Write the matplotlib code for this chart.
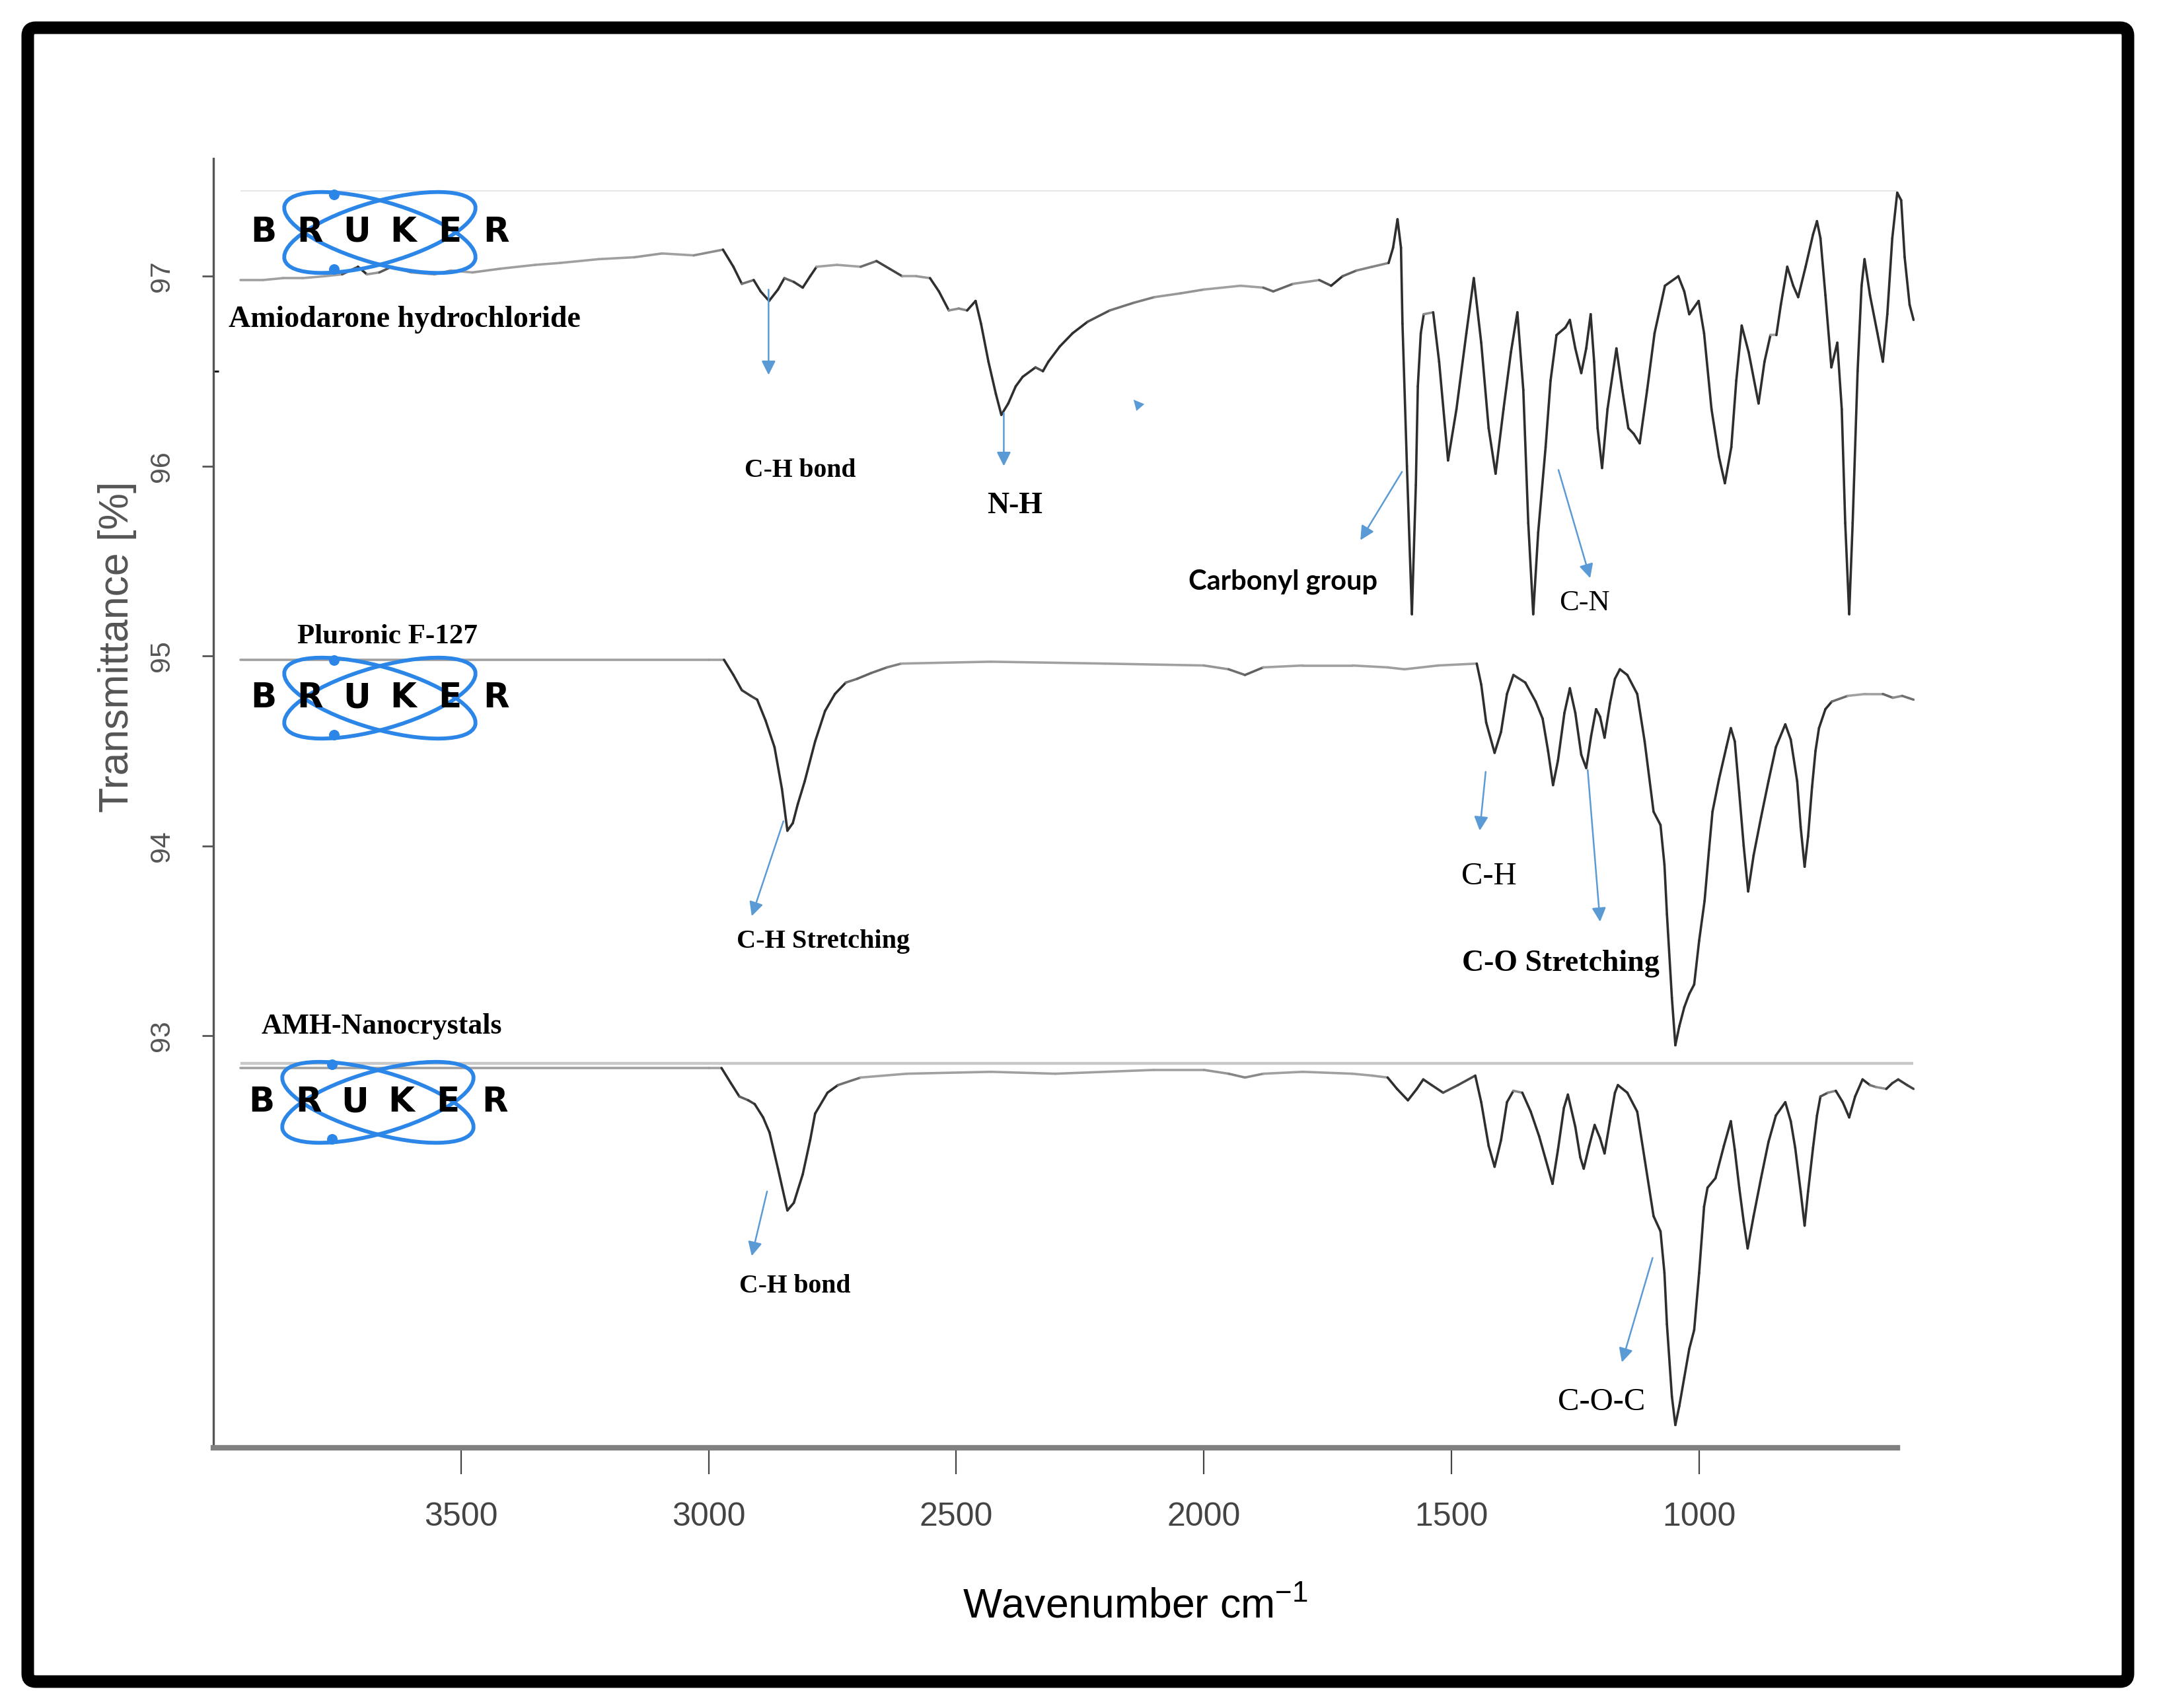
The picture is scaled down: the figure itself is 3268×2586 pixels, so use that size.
import numpy as np
import matplotlib
matplotlib.use("Agg")
import matplotlib.pyplot as plt
import matplotlib.colors as mcolors
from matplotlib import font_manager
from matplotlib.collections import LineCollection
from matplotlib.patches import Ellipse, Circle, FancyBboxPatch

# ── Fonts ─────────────────────────────────────────────────────────────────────
_names = {f.name for f in font_manager.fontManager.ttflist}
SANS   = "Liberation Sans"
NARROW = "Liberation Sans Narrow" if "Liberation Sans Narrow" in _names else SANS
SERIF  = "Liberation Serif"
HUMAN  = "Lato" if "Lato" in _names else "Open Sans"

plt.rcParams["font.family"] = SANS
plt.rcParams["mathtext.default"] = "regular"

# ── Data ──────────────────────────────────────────────────────────────────────
WN_AMH = [3945, 3900, 3860, 3820, 3776, 3740, 3708, 3690, 3665, 3640, 3600, 3554,
          3520, 3477, 3420, 3350, 3300, 3222, 3150, 3094, 3030, 2971, 2950, 2933,
          2909, 2895, 2878, 2860, 2847, 2828, 2810, 2795, 2782, 2741, 2693, 2661,
          2635, 2609, 2580, 2553, 2535, 2515, 2495, 2478, 2461, 2450, 2435, 2420,
          2409, 2395, 2380, 2366, 2340, 2325, 2314, 2291, 2265, 2235, 2190, 2142,
          2100, 2047, 2000, 1926, 1880, 1860, 1820, 1767, 1743, 1720, 1692, 1660,
          1627, 1618, 1609, 1602, 1599, 1590, 1580, 1572, 1568, 1562, 1556, 1537,
          1525, 1507, 1490, 1470, 1455, 1440, 1425, 1411, 1395, 1380, 1367, 1355,
          1345, 1335, 1325, 1310, 1300, 1288, 1270, 1261, 1250, 1238, 1228, 1219,
          1212, 1205, 1196, 1185, 1167, 1155, 1143, 1132, 1120, 1105, 1090, 1069,
          1042, 1030, 1020, 1001, 990, 975, 960, 948, 935, 925, 914, 900, 880, 868,
          856, 844, 835, 822, 810, 800, 785, 770, 762, 755, 745, 733, 721, 712, 705,
          697, 690, 680, 672, 666, 655, 640, 629, 620, 610, 600, 592, 585, 575, 567]
T_AMH = [96.98, 96.98, 96.99, 96.99, 97.00, 97.01, 97.05, 97.01, 97.02, 97.05, 97.02, 97.01,
         97.03, 97.02, 97.04, 97.06, 97.07, 97.09, 97.10, 97.12, 97.11, 97.14, 97.05, 96.96,
         96.98, 96.92, 96.87, 96.93, 96.99, 96.97, 96.94, 97.00, 97.05, 97.06, 97.05, 97.08,
         97.04, 97.00, 97.00, 96.99, 96.92, 96.82, 96.83, 96.82, 96.87, 96.75, 96.55, 96.38,
         96.27, 96.33, 96.42, 96.47, 96.52, 96.50, 96.55, 96.63, 96.70, 96.76, 96.82, 96.86,
         96.89, 96.91, 96.93, 96.95, 96.94, 96.92, 96.96, 96.98, 96.95, 97.00, 97.03, 97.05,
         97.07, 97.15, 97.30, 97.15, 96.75, 96.00, 95.22, 95.90, 96.42, 96.70, 96.80, 96.81,
         96.55, 96.03, 96.30, 96.70, 96.99, 96.65, 96.20, 95.96, 96.30, 96.60, 96.81, 96.40,
         95.70, 95.22, 95.65, 96.10, 96.45, 96.69, 96.73, 96.77, 96.62, 96.49, 96.62, 96.80,
         96.55, 96.20, 95.99, 96.30, 96.62, 96.40, 96.20, 96.17, 96.12, 96.40, 96.70, 96.95,
         97.00, 96.92, 96.80, 96.87, 96.70, 96.30, 96.05, 95.91, 96.10, 96.45, 96.74, 96.60, 96.33, 96.55,
         96.69, 96.69, 96.85, 97.05, 96.95, 96.89, 97.05, 97.22, 97.29, 97.20, 96.90, 96.52, 96.65, 96.30, 95.70,
         95.22, 95.70, 96.50, 96.95, 97.09, 96.90, 96.70, 96.55, 96.80, 97.20, 97.44, 97.40, 97.10, 96.85, 96.77]

WN_F127 = [3945, 3500, 3000, 2969, 2950, 2933, 2915, 2902, 2885, 2867, 2852, 2841,
           2830, 2820, 2806, 2785, 2765, 2745, 2723, 2700, 2672, 2640, 2611, 2430,
           2200, 2000, 1950, 1917, 1880, 1800, 1700, 1629, 1595, 1527, 1449, 1440,
           1430, 1413, 1400, 1388, 1375, 1351, 1330, 1316, 1305, 1295, 1285, 1272,
           1261, 1250, 1238, 1228, 1218, 1208, 1200, 1191, 1180, 1170, 1160, 1145,
           1125, 1110, 1092, 1078, 1070, 1065, 1055, 1048, 1040, 1030, 1020, 1010,
           1000, 989, 980, 973, 960, 945, 936, 928, 919, 910, 901, 890, 875, 860,
           845, 826, 815, 802, 795, 787, 780, 772, 765, 758, 745, 732, 700, 664,
           629, 609, 590, 567]
T_F127 = [94.98, 94.98, 94.98, 94.98, 94.90, 94.82, 94.79, 94.77, 94.66, 94.52, 94.30, 94.08,
          94.12, 94.22, 94.34, 94.55, 94.71, 94.80, 94.86, 94.88, 94.91, 94.94, 94.96, 94.97,
          94.96, 94.95, 94.93, 94.90, 94.94, 94.95, 94.95, 94.94, 94.93, 94.95, 94.96, 94.85,
          94.65, 94.49, 94.60, 94.80, 94.90, 94.86, 94.76, 94.67, 94.50, 94.32, 94.45, 94.70,
          94.83, 94.70, 94.48, 94.41, 94.58, 94.72, 94.68, 94.57, 94.75, 94.88, 94.93, 94.90,
          94.80, 94.55, 94.18, 94.11, 93.90, 93.64, 93.20, 92.95, 93.05, 93.15, 93.22, 93.27,
          93.50, 93.71, 93.98, 94.18, 94.35, 94.52, 94.62, 94.55, 94.28, 94.00, 93.76, 93.95, 94.15, 94.34,
          94.52, 94.64, 94.56, 94.34, 94.10, 93.89, 94.05, 94.31, 94.50, 94.62, 94.72, 94.76, 94.79, 94.80,
          94.80, 94.78, 94.79, 94.77]

WN_NC = [3945, 3500, 3000, 2974, 2955, 2938, 2920, 2907, 2890, 2877, 2860, 2841,
         2828, 2810, 2795, 2785, 2760, 2739, 2693, 2600, 2430, 2300, 2100, 2000,
         1950, 1917, 1880, 1800, 1700, 1660, 1629, 1610, 1588, 1570, 1557, 1540,
         1517, 1487, 1452, 1440, 1425, 1413, 1400, 1388, 1375, 1357, 1340, 1323,
         1310, 1296, 1285, 1273, 1265, 1250, 1240, 1233, 1222, 1211, 1200, 1191,
         1180, 1170, 1164, 1145, 1125, 1110, 1092, 1078, 1070, 1065, 1055, 1048,
         1040, 1030, 1020, 1010, 1000, 990, 983, 967, 950, 936, 928, 919, 910, 902,
         890, 875, 860, 845, 826, 815, 806, 795, 787, 780, 770, 762, 755, 740, 724,
         710, 697, 685, 670, 655, 643, 622, 610, 598, 580, 567]
T_NC = [92.83, 92.83, 92.83, 92.83, 92.75, 92.68, 92.66, 92.64, 92.57, 92.49, 92.30, 92.08,
        92.12, 92.27, 92.45, 92.59, 92.70, 92.74, 92.78, 92.80, 92.81, 92.80, 92.82, 92.82,
        92.80, 92.78, 92.80, 92.81, 92.80, 92.79, 92.78, 92.72, 92.66, 92.72, 92.77, 92.74,
        92.70, 92.74, 92.79, 92.65, 92.42, 92.31, 92.45, 92.65, 92.71, 92.70, 92.60, 92.47,
        92.35, 92.22, 92.40, 92.62, 92.69, 92.52, 92.36, 92.30, 92.42, 92.53, 92.46, 92.38,
        92.55, 92.70, 92.74, 92.70, 92.60, 92.35, 92.05, 91.97, 91.75, 91.48, 91.10, 90.95,
        91.05, 91.20, 91.35, 91.45, 91.75, 92.10, 92.20, 92.25, 92.42, 92.55, 92.40, 92.20, 92.02, 91.88,
        92.05, 92.25, 92.44, 92.58, 92.65, 92.55, 92.41, 92.18, 92.00, 92.18, 92.41, 92.58, 92.68, 92.70, 92.71,
        92.65, 92.57, 92.68, 92.77, 92.74, 92.73, 92.72, 92.75, 92.77, 92.74, 92.72]

SAMPLES = ["Amiodarone hydrochloride", "Pluronic F-127", "AMH-Nanocrystals"]
X_TICKS = [3500, 3000, 2500, 2000, 1500, 1000]
Y_TICKS = [93, 94, 95, 96, 97]

ARROW_BLUE = "#5B9BD5"
LOGO_BLUE  = "#2B86E8"


# ── Helpers ───────────────────────────────────────────────────────────────────
def shaded_line(ax, wn, t, lw=2.6):
    """Spectrum drawn as segments: flat parts light grey, steep parts dark."""
    pts  = np.column_stack([wn, t])
    disp = ax.transData.transform(pts)
    d    = np.diff(disp, axis=0)
    ang  = np.degrees(np.arctan2(np.abs(d[:, 1]), np.abs(d[:, 0]) + 1e-9))
    k    = np.clip((ang - 6) / 30, 0, 1)[:, None]
    light = np.array(mcolors.to_rgb("#a0a0a0"))
    dark  = np.array(mcolors.to_rgb("#2e2e2e"))
    cols  = light * (1 - k) + dark * k
    segs  = np.stack([pts[:-1], pts[1:]], axis=1)
    ax.add_collection(LineCollection(segs, colors=cols, linewidths=lw,
                                     capstyle="round", joinstyle="round", zorder=3))


def px(x, y):
    """Full-image pixel (from top-left) -> figure inches."""
    return x / 100, (2586 - y) / 100


def bruker_logo(fig, cx, cy):
    tr = fig.dpi_scale_trans
    x0, y0 = px(cx, cy)
    for ang in (-16, 16):
        fig.add_artist(Ellipse((x0, y0), 3.00, 0.94, angle=ang, transform=tr,
                               fill=False, ec=LOGO_BLUE, lw=4.2, zorder=5))
    for dy in (0.57, -0.56):
        fig.add_artist(Circle((x0 - 0.69, y0 + dy), 0.08, transform=tr,
                              fc=LOGO_BLUE, ec="none", zorder=5))
    for i, letter in enumerate("BRUKER"):
        lx, ly = px(cx - 176 + i * 70.5, cy)
        fig.text(lx, ly, letter, transform=tr, ha="center", va="center",
                 fontsize=37, fontweight="heavy", family="DejaVu Sans",
                 color="black", zorder=6)


def label(ax, x, y, s, size, bold=True, family=SERIF, ha="center"):
    ax.text(x, y, s, fontsize=size, family=family, ha=ha, va="center",
            fontweight="bold" if bold else "normal", color="black", zorder=6)


def arrow(ax, start, end):
    ax.annotate("", xy=end, xytext=start,
                arrowprops=dict(arrowstyle="-|>", color=ARROW_BLUE, lw=1.8,
                                mutation_scale=32, shrinkA=0, shrinkB=0),
                zorder=6)


# ── Figure ────────────────────────────────────────────────────────────────────
fig = plt.figure(figsize=(32.68, 25.86), dpi=100, facecolor="white")
ax = fig.add_axes([0.09884, 0.15236, 0.78794, 0.75483])
ax.set_xlim(4000, 565)
ax.set_ylim(90.83, 97.62)

# faint background guide lines of the scanned plot
ax.hlines(97.45, 3945, 600, color="#e6e6e6", lw=1.5, zorder=1)
ax.hlines(92.855, 3945, 567, color="#c8c8c8", lw=3.2, zorder=1)

for wn, t in [(WN_AMH, T_AMH), (WN_F127, T_F127), (WN_NC, T_NC)]:
    shaded_line(ax, wn, t)

# sample names
label(ax, 3969, 96.77, SAMPLES[0], 33, ha="left")
label(ax, 3831, 95.10, SAMPLES[1], 31, ha="left")
label(ax, 3903, 93.05, SAMPLES[2], 31.5, ha="left")

# band assignments
label(ax, 2815, 95.975, "C-H bond", 28.5)
arrow(ax, (2879, 96.93), (2879, 96.48))
label(ax, 2382, 95.79, "N-H", 33)
arrow(ax, (2404, 96.28), (2404, 96.00))
label(ax, 1840, 95.39, "Carbonyl group", 30, family=HUMAN)
arrow(ax, (1600, 95.97), (1684, 95.61))
label(ax, 1231, 95.28, "C-N", 32, bold=False)
arrow(ax, (1284, 95.98), (1220, 95.41))
ax.annotate("", xy=(2142, 96.35), xytext=(2132, 96.32),
            arrowprops=dict(arrowstyle="-|>", color=ARROW_BLUE, lw=0.1,
                            mutation_scale=28, shrinkA=0, shrinkB=0))

label(ax, 2769, 93.495, "C-H Stretching", 29)
arrow(ax, (2849, 94.13), (2913, 93.63))
label(ax, 1425, 93.84, "C-H", 35, bold=False)
arrow(ax, (1431, 94.39), (1443, 94.08))
label(ax, 1279, 93.38, "C-O Stretching", 33)
arrow(ax, (1225, 94.40), (1200, 93.60))

label(ax, 2826, 91.68, "C-H bond", 28.5)
arrow(ax, (2882, 92.18), (2913, 91.84))
label(ax, 1197, 91.07, "C-O-C", 35, bold=False)
arrow(ax, (1094, 91.83), (1156, 91.28))

# axes styling
for side in ("top", "right"):
    ax.spines[side].set_visible(False)
ax.spines["left"].set_color("#555555")
ax.spines["left"].set_linewidth(2.4)
ax.spines["bottom"].set_color("#808080")
ax.spines["bottom"].set_linewidth(6)
ax.spines["bottom"].set_bounds(4000, 600)

ax.set_xticks(X_TICKS)
ax.tick_params(axis="x", length=29, width=1.6, color="#444444", pad=30,
               labelsize=36, labelcolor="#444444")
for lab in ax.get_xticklabels():
    lab.set_fontfamily(NARROW)

ax.set_yticks(Y_TICKS)
ax.set_yticks([96.5], minor=True)
ax.tick_params(axis="y", length=12, width=2, color="#555555", pad=30,
               labelsize=31, labelcolor="#555555", labelrotation=90)
ax.tick_params(axis="y", which="minor", direction="in", length=6, width=2)
for lab in ax.get_yticklabels():
    lab.set_va("center")

ax.set_xlabel("Wavenumber cm$^{-1}$", fontsize=45, family=NARROW, color="black")
ax.xaxis.set_label_coords(0.5417, -0.123)
ax.xaxis.label.set_va("center")
ax.set_ylabel("Transmittance [%]", fontsize=45, color="#555555")
ax.yaxis.set_label_coords(-0.0567, 0.621)
ax.yaxis.label.set_va("center")

# Bruker logos
bruker_logo(fig, 575, 352)
bruker_logo(fig, 575, 1057)
bruker_logo(fig, 572, 1669)

# outer black frame
fig.add_artist(FancyBboxPatch((0.42, 0.40), 31.79, 25.04,
                              boxstyle="round,pad=0,rounding_size=0.12",
                              transform=fig.dpi_scale_trans, fill=False,
                              ec="black", lw=13.7, zorder=10))

fig.savefig("out.png", dpi=100, facecolor="white")
